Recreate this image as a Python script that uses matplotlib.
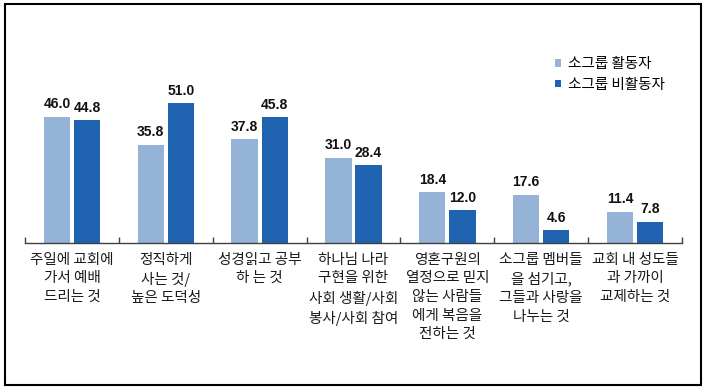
import matplotlib
matplotlib.use('Agg')
import matplotlib.pyplot as plt
from matplotlib.patches import Rectangle
import numpy as np

plt.rcParams['font.family'] = ['Noto Sans CJK KR', 'DejaVu Sans']

# data
categories = [
    '주일에 교회에\n가서 예배\n드리는 것',
    '정직하게\n사는 것/\n높은 도덕성',
    '성경읽고 공부\n하 는 것',
    '하나님 나라\n구현을 위한\n사회 생활/사회\n봉사/사회 참여',
    '영혼구원의\n열정으로 믿지\n않는 사람들\n에게 복음을\n전하는 것',
    '소그룹 멤버들\n을 섬기고,\n그들과 사랑을\n나누는 것',
    '교회 내 성도들\n과 가까이\n교제하는 것',
]
active = [46.0, 35.8, 37.8, 31.0, 18.4, 17.6, 11.4]
inactive = [44.8, 51.0, 45.8, 28.4, 12.0, 4.6, 7.8]
series_names = ['소그룹 활동자', '소그룹 비활동자']

c_light = '#95B3D7'
c_dark = '#1F63B0'

W, H = 709, 392
fig = plt.figure(figsize=(W / 100, H / 100), dpi=100)
ax = fig.add_axes([25 / W, 1 - 243 / H, (682 - 25) / W, 219.6 / H])

x = np.arange(len(categories))
bw = 0.28
off = 0.16
b1 = ax.bar(x - off, active, bw, color=c_light, label=series_names[0])
b2 = ax.bar(x + off, inactive, bw, color=c_dark, label=series_names[1])

for bars, vals in ((b1, active), (b2, inactive)):
    for r, v in zip(bars, vals):
        ax.text(r.get_x() + r.get_width() / 2, v + 2.0, f'{v:.1f}',
                ha='center', va='bottom', fontsize=10, fontweight='bold',
                family='Liberation Sans', color='#111111')

ax.set_xlim(-0.5, len(categories) - 0.5)
ax.set_ylim(0, 80)
ax.set_yticks([])
for s in ('left', 'right', 'top'):
    ax.spines[s].set_visible(False)
ax.spines['bottom'].set_color('#404040')
ax.spines['bottom'].set_linewidth(1.0)

ax.set_xticks(x)
ax.set_xticklabels(categories, fontsize=10.5, linespacing=1.42,
                   fontweight='medium', color='#1a1a1a')
ax.tick_params(axis='x', which='major', length=0, pad=7)
ax.set_xticks(np.arange(-0.5, len(categories)), minor=True)
ax.tick_params(axis='x', which='minor', direction='in', length=4,
               color='#404040', width=1.0)
ax.patch.set_visible(False)

leg = ax.legend(loc='upper left', bbox_to_anchor=(542 / W, 1 - 44 / H),
                bbox_transform=fig.transFigure, frameon=False, fontsize=10.5,
                handlelength=0.4, handleheight=0.4, handletextpad=0.45,
                labelspacing=0.45)
for t in leg.get_texts():
    t.set_fontweight('medium')

# outer frame
fig.patches.append(Rectangle((5 / W, 1 - 385 / H), 696 / W, 381 / H,
                             transform=fig.transFigure, fill=False,
                             edgecolor='black', linewidth=1.5))

fig.savefig('out.png', dpi=100)
